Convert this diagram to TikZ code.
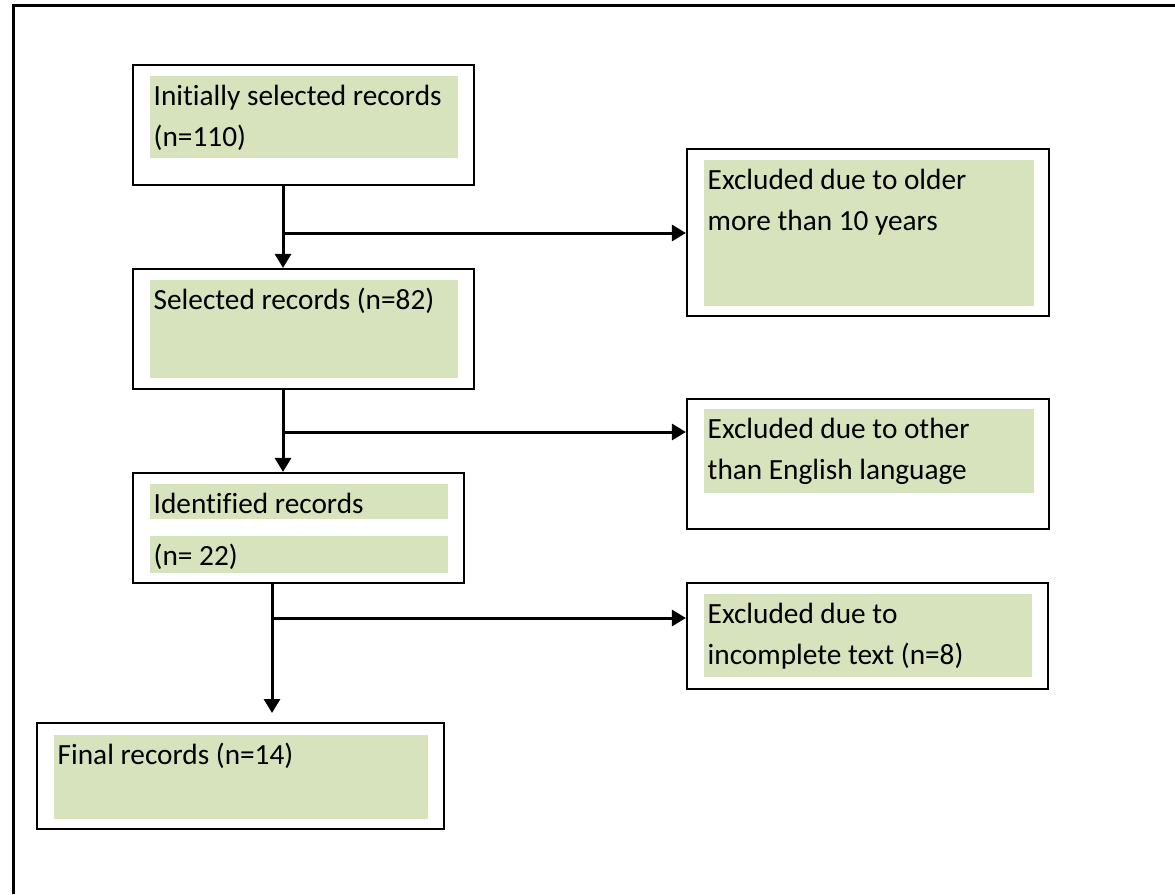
\documentclass[tikz,border=0pt]{standalone}
\usepackage{fontspec}
\setmainfont{Carlito}[Ligatures=NoCommon]
\usetikzlibrary{arrows.meta}
\definecolor{palegreen}{HTML}{D7E3BC}
\begin{document}
\begin{tikzpicture}[x=1pt, y=-1pt,
  box/.style={draw, line width=2.2pt, inner sep=0pt},
  lbl/.style={anchor=north west, align=left, inner xsep=3.5pt, inner ysep=0pt,
    font=\fontsize{29.3}{41.5}\selectfont},
  flow/.style={line width=3pt, -{Triangle[length=14pt, width=16pt]}}]
\useasboundingbox (0,0) rectangle (1175,894);
\draw[line width=3pt] (13,894) -- (13,5) -- (1175,5);
% left column
\node[box, minimum width=341pt, minimum height=120pt] (init) at (303.5,125) {};
\fill[palegreen] (150,76) rectangle (458,158);
\node[lbl] (initT) at (150,76) {\strut Initially selected records\\(n=110)};
\node[box, minimum width=341pt, minimum height=120pt] (sel) at (303.5,329) {};
\fill[palegreen] (150,280) rectangle (458,378);
\node[lbl] (selT) at (150,280) {\strut Selected records (n=82)};
\node[box, minimum width=331pt, minimum height=110pt] (ident) at (298.5,528) {};
\fill[palegreen] (150,484) rectangle (448,519);
\fill[palegreen] (150,536) rectangle (448,573);
\node[lbl] (identT) at (150,484) {\strut Identified records};
\node[lbl] (identN) at (150,536) {\strut (n= 22)};
\node[box, minimum width=407pt, minimum height=106pt] (fin) at (240.5,776) {};
\fill[palegreen] (54,735) rectangle (428,819);
\node[lbl] (finT) at (54,735) {\strut Final records (n=14)};
% right column
\node[box, minimum width=362pt, minimum height=167pt] (ex1) at (868,232.5) {};
\fill[palegreen] (704,160) rectangle (1034,306);
\node[lbl] (ex1T) at (704,160) {\strut Excluded due to older\\more than 10 years};
\node[box, minimum width=362pt, minimum height=130pt] (ex2) at (868,464) {};
\fill[palegreen] (704,409) rectangle (1034,493);
\node[lbl] (ex2T) at (704,409) {\strut Excluded due to other\\than English language};
\node[box, minimum width=361pt, minimum height=106pt] (ex3) at (867.5,636) {};
\fill[palegreen] (704,594) rectangle (1032,677);
\node[lbl] (ex3T) at (704,594) {\strut Excluded due to\\incomplete text (n=8)};
% connectors
\coordinate (j1) at (283,233);
\coordinate (j2) at (283,432);
\coordinate (j3) at (272,618);
\coordinate (e3) at (272,713);
\draw[flow] (j1 |- init.south) -- (j1 |- sel.north);
\draw[flow] (j1) -- (j1 -| ex1.west);
\draw[flow] (j2 |- sel.south) -- (j2 |- ident.north);
\draw[flow] (j2) -- (j2 -| ex2.west);
\draw[flow] (j3 |- ident.south) -- (e3);
\draw[flow] (j3) -- (j3 -| ex3.west);
\end{tikzpicture}
\end{document}
